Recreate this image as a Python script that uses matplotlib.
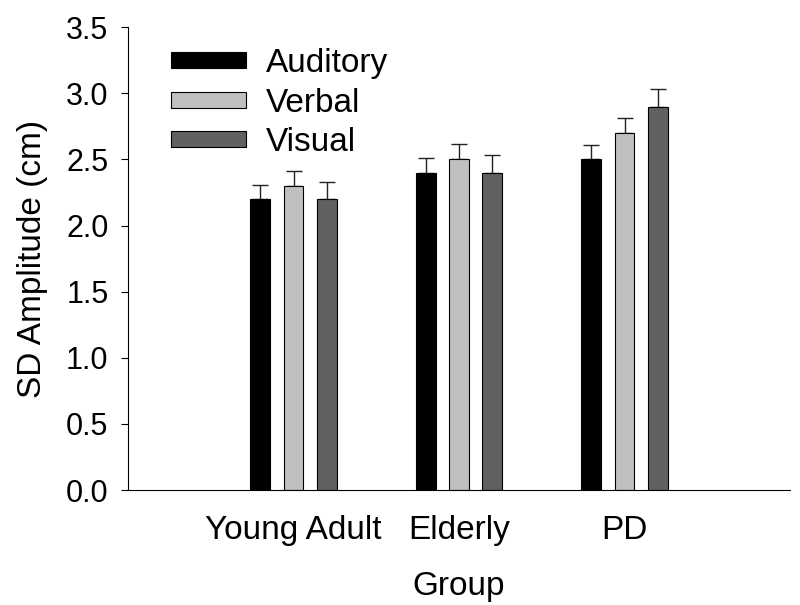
import matplotlib
matplotlib.use('Agg')
from matplotlib import pyplot as plt
import numpy as np

plt.rcParams['font.family'] = ['Liberation Sans', 'DejaVu Sans']

groups = ['Young Adult', 'Elderly', 'PD']
conditions = ['Auditory', 'Verbal', 'Visual']
colors = ['#000000', '#c0c0c0', '#606060']
means = {
    'Auditory': [2.2, 2.4, 2.5],
    'Verbal': [2.3, 2.5, 2.7],
    'Visual': [2.2, 2.4, 2.9],
}
errors = {
    'Auditory': [0.11, 0.11, 0.11],
    'Verbal': [0.11, 0.12, 0.11],
    'Visual': [0.13, 0.13, 0.13],
}

fig = plt.figure(figsize=(8, 6.05), dpi=100)
ax = fig.add_axes([0.16, 0.19, 0.8275, 0.765])

x = np.arange(1, len(groups) + 1)
width = 0.12
step = 0.2
for i, cond in enumerate(conditions):
    xpos = x + (i - 1) * step
    ax.bar(xpos, means[cond], width, color=colors[i], edgecolor='black',
           linewidth=0.8, label=cond, zorder=2)
    ax.errorbar(xpos, means[cond], yerr=[np.zeros(3), errors[cond]],
                fmt='none', ecolor='#222222', elinewidth=1.0, capsize=6,
                capthick=1.0, zorder=1)

ax.set_xlim(0, 4)
ax.set_ylim(0, 3.5)
ax.set_yticks(np.arange(0, 3.51, 0.5))
ax.set_yticklabels([f'{v:.1f}' for v in np.arange(0, 3.51, 0.5)])
ax.set_xticks(x)
ax.set_xticklabels(groups)
ax.tick_params(axis='x', length=0, pad=18, labelsize=24)
ax.tick_params(axis='y', length=5, width=0.8, direction='out', pad=9, labelsize=22)
for s in ['top', 'right']:
    ax.spines[s].set_visible(False)
for s in ['left', 'bottom']:
    ax.spines[s].set_linewidth(0.8)

ax.set_ylabel('SD Amplitude (cm)', fontsize=24, labelpad=13)
ax.set_xlabel('Group', fontsize=24, labelpad=18)

ax.legend(loc='upper left', bbox_to_anchor=(0.019, 1.02), frameon=False,
          fontsize=24, handlelength=2.27, handleheight=0.36,
          handletextpad=0.6, labelspacing=0.26)

fig.savefig('out.png', dpi=100)
